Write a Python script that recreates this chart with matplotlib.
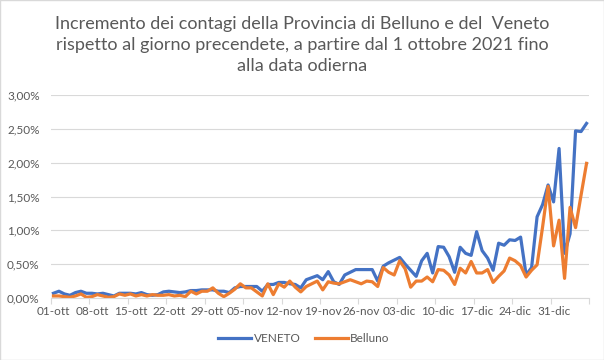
import matplotlib
matplotlib.use("Agg")
import matplotlib.pyplot as plt
from matplotlib.patches import Rectangle
from matplotlib.ticker import FixedLocator, FuncFormatter

title = ("Incremento dei contagi della Provincia di Belluno e del  Veneto\n"
         "rispetto al giorno precendete, a partire dal 1 ottobre 2021 fino\n"
         "alla data odierna")

tick_labels = ["01-ott", "08-ott", "15-ott", "22-ott", "29-ott", "05-nov", "12-nov",
               "19-nov", "26-nov", "03-dic", "10-dic", "17-dic", "24-dic", "31-dic"]

veneto = [0.07, 0.10, 0.06, 0.04, 0.08, 0.10, 0.07, 0.07, 0.06, 0.07,
          0.05, 0.03, 0.07, 0.07, 0.07, 0.06, 0.08, 0.05, 0.04, 0.05,
          0.09, 0.10, 0.09, 0.08, 0.09, 0.11, 0.11, 0.12, 0.12, 0.12,
          0.10, 0.10, 0.08, 0.15, 0.17, 0.17, 0.17, 0.17, 0.10, 0.20,
          0.20, 0.23, 0.23, 0.21, 0.20, 0.15, 0.27, 0.30, 0.33, 0.27,
          0.39, 0.24, 0.20, 0.34, 0.38, 0.42, 0.42, 0.42, 0.42, 0.25,
          0.47, 0.52, 0.56, 0.60, 0.50, 0.41, 0.32, 0.55, 0.66, 0.37,
          0.76, 0.75, 0.61, 0.38, 0.75, 0.66, 0.63, 0.98, 0.70, 0.59,
          0.41, 0.81, 0.78, 0.86, 0.85, 0.90, 0.34, 0.45, 1.20, 1.38,
          1.67, 1.42, 2.21, 0.66, 0.95, 2.47, 2.46, 2.58]

belluno = [0.03, 0.03, 0.02, 0.01, 0.03, 0.06, 0.01, 0.02, 0.05, 0.03,
           0.01, 0.02, 0.06, 0.04, 0.06, 0.03, 0.05, 0.03, 0.05, 0.04,
           0.04, 0.05, 0.03, 0.04, 0.02, 0.10, 0.06, 0.10, 0.10, 0.15,
           0.07, 0.02, 0.07, 0.13, 0.21, 0.15, 0.15, 0.09, 0.03, 0.21,
           0.05, 0.21, 0.16, 0.25, 0.16, 0.09, 0.17, 0.21, 0.25, 0.12,
           0.24, 0.22, 0.21, 0.24, 0.27, 0.24, 0.21, 0.25, 0.24, 0.17,
           0.45, 0.38, 0.34, 0.55, 0.43, 0.16, 0.25, 0.25, 0.31, 0.24,
           0.42, 0.41, 0.34, 0.20, 0.44, 0.37, 0.54, 0.37, 0.37, 0.42,
           0.23, 0.32, 0.40, 0.59, 0.55, 0.48, 0.31, 0.41, 0.49, 1.05,
           1.65, 0.77, 1.15, 0.29, 1.34, 1.04, 1.52, 1.99]

font = "Lato"
grey = "#595959"

fig = plt.figure(figsize=(6.04, 3.60), dpi=100)
fig.patches.append(Rectangle((0, 0), 1, 1, transform=fig.transFigure,
                             fill=False, edgecolor="#d9d9d9", linewidth=1.0))
ax = fig.add_axes([50.7 / 604, 1 - 298 / 360, (589.3 - 50.7) / 604, (298 - 95) / 360])

n = len(veneto)
xs = [i + 0.5 for i in range(n)]
ax.plot(xs, veneto, color="#4472C4", lw=2.3, label="VENETO", solid_joinstyle="round")
ax.plot(xs, belluno, color="#ED7D31", lw=2.3, label="Belluno", solid_joinstyle="round")

ax.set_xlim(0, n)
ax.set_ylim(0, 3.0)
ax.set_yticks([0, 0.5, 1.0, 1.5, 2.0, 2.5, 3.0])
ax.yaxis.set_major_formatter(FuncFormatter(lambda v, p: f"{v:.2f}%".replace(".", ",")))
ax.grid(axis="y", color="#d9d9d9", lw=0.8)
ax.set_axisbelow(True)

# tick marks at category boundaries, labels centred on the categories
ax.xaxis.set_major_locator(FixedLocator(list(range(0, n + 1, 7))))
ax.xaxis.set_major_formatter(FuncFormatter(lambda v, p: ""))
ax.xaxis.set_minor_locator(FixedLocator([7 * k + 0.5 for k in range(len(tick_labels))]))
ax.xaxis.set_minor_formatter(FuncFormatter(lambda v, p: tick_labels[int(v) // 7]))
ax.tick_params(axis="x", which="major", length=4, color="#d9d9d9", direction="out")
ax.tick_params(axis="x", which="minor", length=0, pad=6, labelsize=8.5, labelcolor=grey)
ax.tick_params(axis="y", length=0, pad=8, labelsize=8.5, labelcolor=grey)
for lab in ax.get_xticklabels(minor=True) + ax.get_yticklabels():
    lab.set_fontfamily(font)

for s in ["top", "right", "left"]:
    ax.spines[s].set_visible(False)
ax.spines["bottom"].set_color("#d9d9d9")

fig.text(0.5, 1 - 45 / 360, title, ha="center", va="center", fontsize=13,
         color=grey, family=font, linespacing=1.38)

leg = fig.legend(loc="center", bbox_to_anchor=(0.503, 1 - 339 / 360), ncol=2,
                 frameon=False, handlelength=2.8, handletextpad=0.2,
                 columnspacing=1.2, prop={"family": font, "size": 8.5})
for t in leg.get_texts():
    t.set_color(grey)

fig.savefig("out.png", dpi=100)
